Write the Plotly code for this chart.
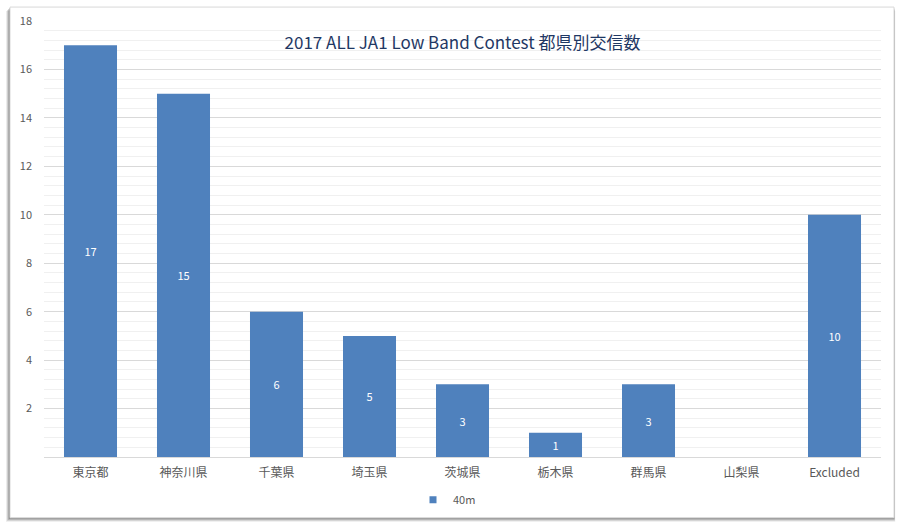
import plotly.graph_objects as go

categories = ["東京都", "神奈川県", "千葉県", "埼玉県", "茨城県", "栃木県", "群馬県", "山梨県", "Excluded"]
values_40m = [17, 15, 6, 5, 3, 1, 3, 0, 10]
series_name = "40m"
y_ticks = [2, 4, 6, 8, 10, 12, 14, 16, 18]
title_text = "2017 ALL JA1 Low Band Contest 都県別交信数"

W, H = 900, 530
L, R, T, B = 44, 881, 19, 457  # plot area pixel bounds

def px_x(p):
    return (p - L) / (R - L)

def px_y(p):
    return (B - p) / (B - T)

font_family = "Noto Sans CJK JP, Noto Sans, sans-serif"
bar_color = "#4F81BD"

fig = go.Figure()
fig.add_trace(go.Bar(
    x=categories,
    y=values_40m,
    name=series_name,
    marker=dict(color=bar_color, line=dict(width=0)),
    text=[str(v) if v else "" for v in values_40m],
    textposition="inside",
    insidetextanchor="middle",
    textfont=dict(color="white", size=11, family=font_family),
    textangle=0,
    showlegend=False,
))
# legend entry (square marker like Excel)
fig.add_trace(go.Scatter(
    x=[None], y=[None], mode="markers", name=series_name,
    marker=dict(symbol="square", size=7, color=bar_color),
    showlegend=True, hoverinfo="skip",
))

shapes = []
for i, op in enumerate([0.08, 0.12, 0.16, 0.2]):
    d = 4 - i
    shapes.append(dict(type="rect", xref="paper", yref="paper",
                       x0=px_x(10 - d), x1=px_x(894 + d * 0.3),
                       y0=px_y(518 + d), y1=px_y(5 + d),
                       line=dict(width=0), fillcolor=f"rgba(0,0,0,{op})", layer="below"))
shapes.append(dict(type="rect", xref="paper", yref="paper",
                   x0=px_x(10), x1=px_x(894), y0=px_y(518), y1=px_y(5),
                   line=dict(color="#D9D9D9", width=1), fillcolor="white", layer="below"))

fig.update_layout(
    width=W, height=H,
    margin=dict(l=L, r=W - R, t=T, b=H - B),
    paper_bgcolor="white",
    plot_bgcolor="rgba(0,0,0,0)",
    bargap=0.43,
    shapes=shapes,
    title=dict(text=title_text, x=0.5, xanchor="center", xref="paper",
               y=1 - 43 / H, yanchor="middle",
               font=dict(size=17, color="#1F3864", family=font_family)),
    font=dict(family=font_family, color="#595959"),
    legend=dict(orientation="h", x=px_x(447), xanchor="center", y=px_y(500), yanchor="middle",
                font=dict(size=11, color="#595959"), bgcolor="rgba(0,0,0,0)",
                itemwidth=30),
    xaxis=dict(showgrid=False, showline=True, linecolor="#D9D9D9", linewidth=1,
               ticks="", tickfont=dict(size=12, color="#595959"), fixedrange=True,
               ticklabelstandoff=5),
    yaxis=dict(range=[0, 18], tickvals=y_ticks, showgrid=True, gridcolor="#D9D9D9",
               gridwidth=1, zeroline=False, showline=False, ticks="",
               tickfont=dict(size=11, color="#595959"), ticklabelstandoff=11,
               minor=dict(tick0=0, dtick=0.4, showgrid=True, gridcolor="#F0F0F0", gridwidth=1)),
)

fig.write_html("out.html", config={"displayModeBar": False},
               post_script="document.body.style.margin='0';document.body.style.overflow='hidden';")
